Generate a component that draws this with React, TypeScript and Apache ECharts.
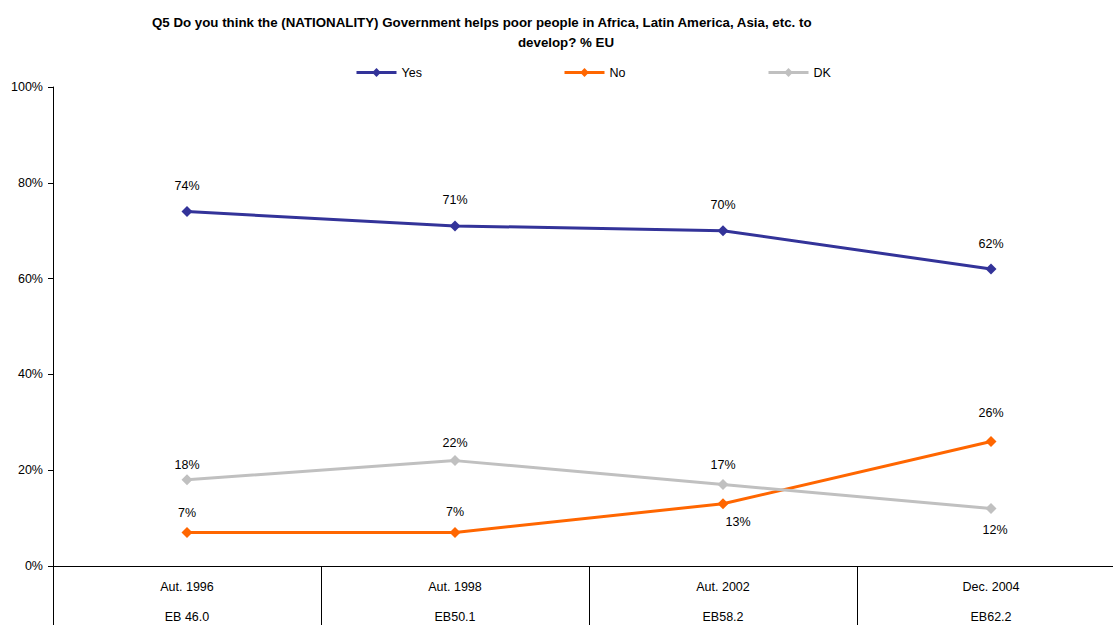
import React, { useEffect, useRef } from "react";
import * as echarts from "echarts";

const periods = ["Aut. 1996", "Aut. 1998", "Aut. 2002", "Dec. 2004"];
const waves = ["EB 46.0", "EB50.1", "EB58.2", "EB62.2"];
const yesValues = [74, 71, 70, 62];
const noValues = [7, 7, 13, 26];
const dkValues = [18, 22, 17, 12];
const yTicks = [0, 20, 40, 60, 80, 100];

// label placement per point: [position, distance, xOffset]
const yesLabelPos: [string, number, number][] = [["top", 13.5, 0], ["top", 13.5, 0], ["top", 13.5, 0], ["top", 13.5, 0]];
const noLabelPos: [string, number, number][] = [["top", 7.5, 0], ["top", 8.5, 0], ["bottom", 6.5, 15], ["top", 16.5, 0]];
const dkLabelPos: [string, number, number][] = [["top", 2.5, 0], ["top", 5.5, 0], ["top", 7.5, 0], ["bottom", 9.5, 4]];

const FONT = "'Liberation Sans', Arial, sans-serif";

function buildData(values: number[], pos: [string, number, number][]) {
  return values.map((v, i) => ({
    value: v,
    label: { position: pos[i][0], distance: pos[i][1], offset: [pos[i][2], 0] },
  }));
}

export default function App() {
  const ref = useRef<HTMLDivElement>(null);
  useEffect(() => {
    if (!ref.current) return;
    const chart = echarts.init(ref.current, undefined, { renderer: "svg" });
    const lineSeries = (name: string, color: string, values: number[], pos: [string, number, number][]) => ({
      name,
      type: "line",
      data: buildData(values, pos),
      symbol: "diamond",
      symbolSize: 11,
      lineStyle: { color, width: 3 },
      itemStyle: { color },
      label: {
        show: true,
        formatter: "{c}%",
        color: "#000",
        fontSize: 12.5,
        fontFamily: FONT,
      },
    });
    chart.setOption({
      animation: false,
      backgroundColor: "#fff",
      title: [
        {
          text: "Q5 Do you think the (NATIONALITY) Government helps poor people in Africa, Latin America, Asia, etc. to",
          left: 147,
          top: 11,
          textStyle: { fontSize: 13.3, fontWeight: "bold", color: "#000", fontFamily: FONT },
        },
        {
          text: "develop? % EU",
          left: 513,
          top: 31,
          textStyle: { fontSize: 13.3, fontWeight: "bold", color: "#000", fontFamily: FONT },
        },
      ],
      legend: [
        { data: ["Yes"], left: 350, top: 61 },
        { data: ["No"], left: 558, top: 61 },
        { data: ["DK"], left: 762, top: 61 },
      ].map((l) => ({
        ...l,
        itemWidth: 40,
        itemHeight: 11,
        itemGap: 5,
        lineStyle: { width: 3 },
        textStyle: { fontSize: 12.5, color: "#000", fontFamily: FONT },
      })),
      grid: { left: 53, right: -12, top: 87, bottom: 59, containLabel: false, outerBoundsMode: "none" },
      xAxis: {
        type: "category",
        data: periods,
        boundaryGap: true,
        axisLine: { show: true, lineStyle: { color: "#000", width: 1 } },
        axisTick: { show: true, length: 62, interval: 0, lineStyle: { color: "#000", width: 1 } },
        axisLabel: {
          interval: 0,
          margin: 6,
          lineHeight: 30,
          fontSize: 12.5,
          color: "#000",
          fontFamily: FONT,
          formatter: (v: string, i: number) => `${periods[i]}\n${waves[i]}`,
        },
        splitLine: { show: false },
      },
      yAxis: {
        type: "value",
        min: yTicks[0],
        max: yTicks[yTicks.length - 1],
        interval: 20,
        axisLine: { show: true, lineStyle: { color: "#000", width: 1 } },
        axisTick: { show: true, length: 5, lineStyle: { color: "#000" } },
        axisLabel: {
          formatter: "{value}%",
          margin: 10,
          fontSize: 12.5,
          color: "#000",
          fontFamily: FONT,
        },
        splitLine: { show: false },
      },
      series: [
        lineSeries("Yes", "#333399", yesValues, yesLabelPos),
        lineSeries("No", "#FF6600", noValues, noLabelPos),
        lineSeries("DK", "#C0C0C0", dkValues, dkLabelPos),
      ],
    });
    return () => chart.dispose();
  }, []);
  return <div ref={ref} style={{ width: 1113, height: 625, position: "fixed", left: 0, top: 0 }} />;
}
